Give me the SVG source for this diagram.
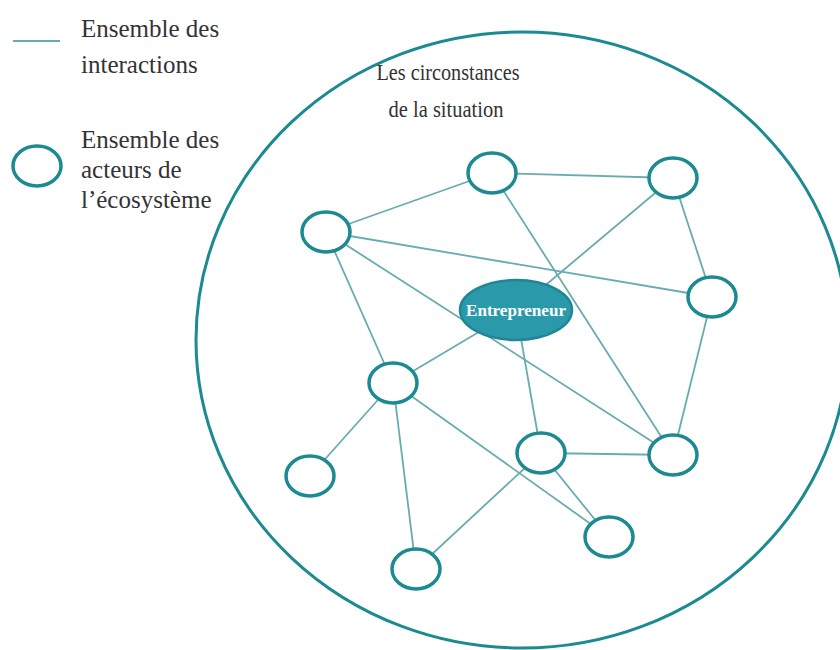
<svg xmlns="http://www.w3.org/2000/svg" width="840" height="650" viewBox="0 0 840 650">
<style>
.txt{font-family:"Liberation Serif","Times New Roman",serif;fill:#333;}
.leg{font-size:25px;}
.ttl{font-size:23px;}
.edge{stroke:#68acb1;stroke-width:1.8;fill:none;}
.node{fill:#fff;stroke:#1b8a91;stroke-width:3.5;}
.frame{fill:none;stroke:#1b8a91;stroke-width:3;}
</style>
<rect width="840" height="650" fill="#fff"/>
<ellipse class="frame" cx="522" cy="340" rx="326" ry="308"/>
<g id="legend" font-family="Liberation Serif, Times New Roman, serif">
<line class="edge" x1="13" y1="41" x2="60" y2="41" stroke-width="2"/>
<text class="txt leg" x="81" y="37">Ensemble des</text>
<text class="txt leg" x="81" y="73">interactions</text>
<ellipse class="node" cx="37" cy="166" rx="24" ry="20"/>
<text class="txt leg" x="81" y="148">Ensemble des</text>
<text class="txt leg" x="81" y="178">acteurs de</text>
<text class="txt leg" x="81" y="208">l’écosystème</text>
</g>
<g id="title" font-family="Liberation Serif, Times New Roman, serif">
<text class="txt ttl" x="448" y="80" text-anchor="middle" textLength="143" lengthAdjust="spacingAndGlyphs">Les circonstances</text>
<text class="txt ttl" x="446" y="117" text-anchor="middle" textLength="115" lengthAdjust="spacingAndGlyphs">de la situation</text>
</g>
<g id="connectors">
<line class="edge" x1="326" y1="232" x2="492" y2="173"/>
<line class="edge" x1="326" y1="232" x2="712" y2="297"/>
<line class="edge" x1="326" y1="232" x2="673" y2="455"/>
<line class="edge" x1="326" y1="232" x2="393" y2="383"/>
<line class="edge" x1="492" y1="173" x2="673" y2="178"/>
<line class="edge" x1="492" y1="173" x2="673" y2="455"/>
<line class="edge" x1="673" y1="178" x2="516" y2="310"/>
<line class="edge" x1="673" y1="178" x2="712" y2="297"/>
<line class="edge" x1="712" y1="297" x2="673" y2="455"/>
<line class="edge" x1="673" y1="455" x2="541" y2="453"/>
<line class="edge" x1="516" y1="310" x2="393" y2="383"/>
<line class="edge" x1="516" y1="310" x2="541" y2="453"/>
<line class="edge" x1="393" y1="383" x2="310" y2="476"/>
<line class="edge" x1="393" y1="383" x2="416" y2="569"/>
<line class="edge" x1="393" y1="383" x2="609" y2="537"/>
<line class="edge" x1="541" y1="453" x2="416" y2="569"/>
<line class="edge" x1="541" y1="453" x2="609" y2="537"/>
</g>
<g id="nodeA"><ellipse class="node" cx="326" cy="232" rx="24" ry="20"/></g>
<g id="nodeB"><ellipse class="node" cx="492" cy="173" rx="24" ry="20"/></g>
<g id="nodeC"><ellipse class="node" cx="673" cy="178" rx="24" ry="20"/></g>
<g id="nodeD"><ellipse class="node" cx="712" cy="297" rx="24" ry="20"/></g>
<g id="nodeE"><ellipse class="node" cx="673" cy="455" rx="24" ry="20"/></g>
<g id="nodeF"><ellipse class="node" cx="393" cy="383" rx="24" ry="20"/></g>
<g id="nodeG"><ellipse class="node" cx="310" cy="476" rx="24" ry="20"/></g>
<g id="nodeH"><ellipse class="node" cx="541" cy="453" rx="24" ry="20"/></g>
<g id="nodeI"><ellipse class="node" cx="416" cy="569" rx="24" ry="20"/></g>
<g id="nodeJ"><ellipse class="node" cx="609" cy="537" rx="24" ry="20"/></g>
<g id="entrepreneur">
<ellipse cx="516" cy="310" rx="56" ry="30" fill="#2a9aab" stroke="#1e8696" stroke-width="2.5"/>
<text x="516" y="316" text-anchor="middle" font-family="Liberation Serif, Times New Roman, serif" font-weight="bold" font-size="17" fill="#fff" textLength="100" lengthAdjust="spacingAndGlyphs">Entrepreneur</text>
</g>
</svg>
